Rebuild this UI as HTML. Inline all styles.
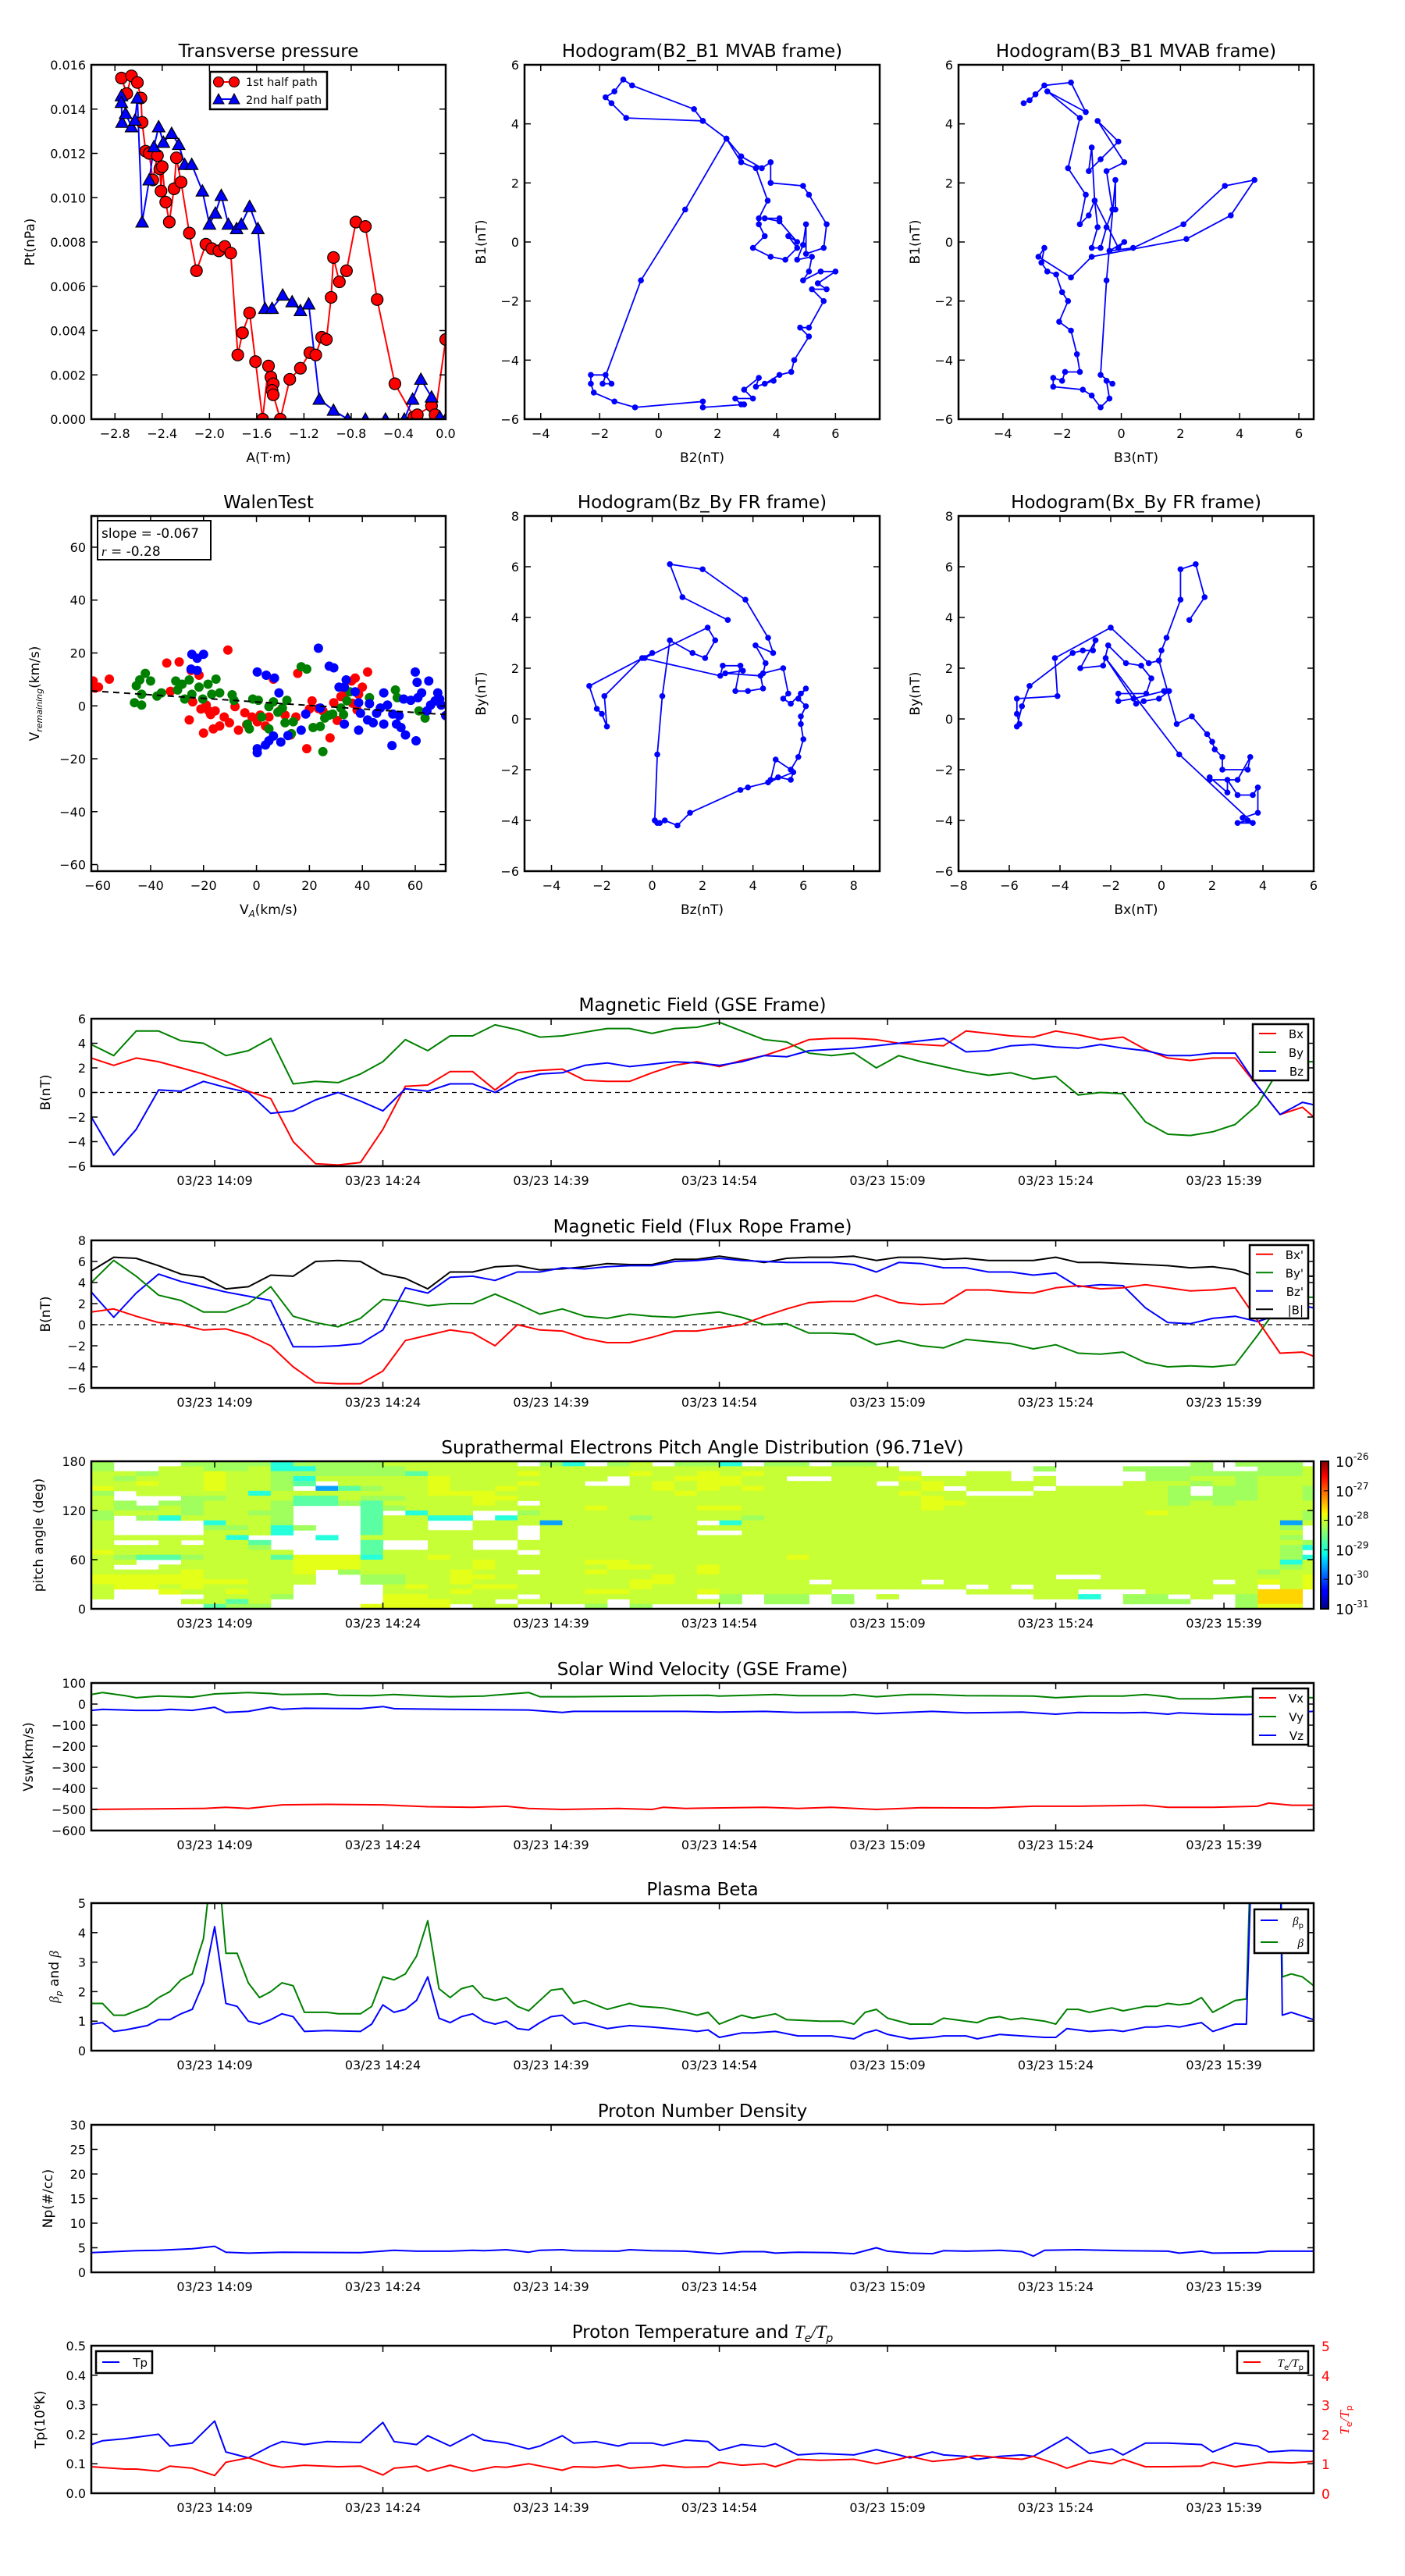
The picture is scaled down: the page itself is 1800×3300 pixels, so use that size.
<!DOCTYPE html>
<html><head><meta charset="utf-8">
<style>
body{margin:0;background:#fff}
svg{display:block}
text{font-family:"DejaVu Sans","Liberation Sans",sans-serif;fill:#000}
</style></head>
<body>
<svg id="chart" xmlns="http://www.w3.org/2000/svg" width="1800" height="3300" viewBox="0 0 1800 3300">
<defs id="defs">
<linearGradient id="jet" x1="0" y1="1" x2="0" y2="0">
<stop offset="0" stop-color="#000080"/><stop offset="0.11" stop-color="#0000ff"/><stop offset="0.125" stop-color="#0000ff"/>
<stop offset="0.34" stop-color="#00dbff"/><stop offset="0.375" stop-color="#0affe6"/><stop offset="0.64" stop-color="#f0ff08"/>
<stop offset="0.66" stop-color="#ffeb00"/><stop offset="0.89" stop-color="#ff0a00"/><stop offset="0.91" stop-color="#f50000"/><stop offset="1" stop-color="#800000"/>
</linearGradient>
</defs>
</svg>
<script>
// ---------------- DATA ----------------
const timeTicks = [11,26,41,56,71,86,101];
const timeLabels = ['03/23 14:09','03/23 14:24','03/23 14:39','03/23 14:54','03/23 15:09','03/23 15:24','03/23 15:39'];
const gridT = [0,2,4,6,8,10,12,14,16,18,20,22,24,26,28,30,32,34,36,38,40,42,44,46,48,50,52,54,56,58,60,62,64,66,68,70,72,74,76,78,80,82,84,86,88,90,92,94,96,98,100,102,104,106,108,109];
const gseBx = [2.8,2.2,2.8,2.5,2.0,1.5,0.9,0.1,-0.5,-4.0,-5.8,-5.9,-5.7,-3.0,0.5,0.6,1.7,1.7,0.2,1.6,1.8,1.9,1.0,0.9,0.9,1.6,2.2,2.5,2.1,2.6,3.0,3.6,4.3,4.4,4.4,4.3,4.0,3.9,3.8,5.0,4.8,4.6,4.5,5.0,4.7,4.3,4.5,3.5,2.8,2.6,2.8,2.8,0.5,-1.8,-1.2,-2.0];
const gseBy = [3.9,3.0,5.0,5.0,4.2,4.0,3.0,3.4,4.4,0.7,0.9,0.8,1.5,2.5,4.3,3.4,4.6,4.6,5.5,5.1,4.5,4.6,4.9,5.2,5.2,4.8,5.2,5.3,5.7,5.0,4.3,4.1,3.2,3.0,3.2,2.0,3.0,2.5,2.1,1.7,1.4,1.6,1.1,1.3,-0.2,0.0,-0.1,-2.4,-3.4,-3.5,-3.2,-2.6,-1.0,2.0,2.5,2.5];
const gseBz = [-2.0,-5.1,-3.0,0.2,0.1,0.9,0.4,0.0,-1.7,-1.5,-0.6,0.0,-0.7,-1.5,0.3,0.1,0.7,0.7,0.0,1.0,1.5,1.6,2.2,2.4,2.1,2.3,2.5,2.4,2.2,2.5,3.0,2.9,3.4,3.5,3.6,3.8,4.0,4.2,4.4,3.3,3.4,3.8,3.9,3.7,3.6,3.9,3.6,3.4,3.0,3.0,3.2,3.2,0.5,-1.8,-0.8,-1.0];
const frBx = [1.2,1.5,0.8,0.2,0.0,-0.5,-0.4,-1.0,-2.0,-4.0,-5.5,-5.6,-5.6,-4.4,-1.5,-1.0,-0.5,-0.8,-2.0,0.0,-0.5,-0.6,-1.3,-1.7,-1.7,-1.2,-0.6,-0.6,-0.3,0.0,0.8,1.5,2.1,2.2,2.2,2.8,2.1,1.9,2.0,3.3,3.3,3.1,3.0,3.5,3.7,3.4,3.5,3.8,3.5,3.2,3.3,3.5,0.4,-2.7,-2.6,-3.0];
const frBy = [4.0,6.1,4.6,2.8,2.3,1.2,1.2,2.0,3.6,0.8,0.2,-0.2,0.6,2.4,2.2,1.8,2.0,2.0,2.9,2.0,1.0,1.5,0.8,0.6,1.0,0.8,0.7,1.0,1.2,0.7,0.0,0.1,-0.8,-0.8,-0.9,-1.9,-1.5,-2.0,-2.2,-1.4,-1.6,-1.8,-2.3,-1.9,-2.7,-2.8,-2.6,-3.6,-4.0,-3.9,-4.0,-3.8,-1.0,2.0,2.6,2.6];
const frBz = [3.1,0.7,3.0,4.8,4.1,3.6,3.1,2.7,2.3,-2.1,-2.1,-2.0,-1.8,-0.5,3.5,3.0,4.5,4.6,4.2,5.0,5.0,5.4,5.3,5.5,5.6,5.6,6.0,6.1,6.3,6.1,6.0,5.9,5.9,5.9,5.7,5.0,5.9,5.8,5.4,5.4,5.0,5.0,4.7,4.9,3.6,3.8,3.7,1.6,0.2,0.1,0.6,0.8,0.3,1.0,1.8,1.6];
const frB = [5.1,6.4,6.3,5.6,4.8,4.5,3.4,3.6,4.7,4.6,6.0,6.1,6.0,4.8,4.4,3.4,5.0,5.0,5.5,5.6,5.2,5.3,5.5,5.8,5.7,5.7,6.2,6.2,6.5,6.2,5.9,6.3,6.4,6.4,6.5,6.1,6.4,6.4,6.2,6.3,6.1,6.1,6.1,6.4,5.9,5.9,5.8,5.7,5.6,5.4,5.5,5.2,4.5,4.5,4.6,4.6];
const vxSeries = [[0,-500],[10,-495],[12,-490],[14,-495],[17,-478],[21,-476],[26,-478],[30,-487],[34,-490],[37,-485],[39,-495],[42,-500],[47,-495],[50,-500],[51,-490],[53,-495],[60,-490],[63,-495],[66,-490],[70,-500],[74,-492],[80,-493],[84,-485],[88,-485],[94,-480],[96,-490],[100,-490],[104,-485],[105,-470],[107,-480],[109,-480]];
const vySeries = [[0,45],[1,55],[3,40],[4,30],[6,38],[9,33],[11,48],[14,55],[16,50],[17,45],[21,48],[22,42],[25,40],[27,45],[30,38],[32,35],[35,38],[39,55],[40,35],[43,35],[50,38],[51,40],[55,42],[56,38],[61,45],[63,40],[67,40],[68,45],[70,35],[73,45],[75,45],[78,40],[84,38],[86,30],[89,38],[92,38],[94,45],[96,35],[97,25],[100,25],[103,35],[109,30]];
const vzSeries = [[0,-30],[1,-25],[4,-30],[6,-30],[7,-25],[9,-30],[11,-15],[12,-40],[14,-35],[16,-15],[17,-25],[19,-20],[24,-22],[26,-12],[27,-22],[32,-25],[39,-28],[42,-40],[43,-35],[53,-35],[56,-38],[60,-35],[63,-40],[68,-38],[70,-45],[75,-35],[78,-42],[83,-38],[86,-48],[88,-40],[92,-42],[94,-40],[96,-48],[97,-42],[100,-48],[103,-50],[109,-35]];
const betaSeries = [[0,1.6],[1,1.6],[2,1.2],[3,1.2],[5,1.5],[6,1.8],[7,2.0],[8,2.4],[9,2.6],[10,3.8],[10.5,5.5],[11,6],[11.5,5.5],[12,3.3],[13,3.3],[14,2.3],[15,1.8],[16,2.0],[17,2.3],[18,2.2],[19,1.3],[21,1.3],[22,1.25],[24,1.25],[25,1.5],[26,2.5],[27,2.4],[28,2.6],[29,3.2],[30,4.4],[31,2.1],[32,1.8],[33,2.1],[34,2.2],[35,1.8],[36,1.7],[37,1.8],[38,1.5],[39,1.35],[40,1.7],[41,2.05],[42,2.1],[43,1.6],[44,1.7],[46,1.4],[47,1.5],[48,1.6],[49,1.5],[51,1.45],[53,1.3],[54,1.2],[55,1.3],[56,0.9],[58,1.2],[59,1.1],[61,1.25],[62,1.05],[65,1.0],[67,1.0],[68,0.9],[69,1.3],[70,1.4],[71,1.1],[73,0.9],[75,0.9],[76,1.1],[78,1.0],[79,0.95],[80,1.1],[81,1.15],[82,1.05],[83,1.1],[85,1.0],[86,0.9],[87,1.4],[88,1.4],[89,1.3],[91,1.45],[92,1.35],[94,1.5],[95,1.5],[96,1.6],[97,1.55],[98,1.6],[99,1.8],[100,1.3],[102,1.7],[103,1.75],[103.5,8],[105,9],[106,8],[106.2,2.5],[107,2.6],[108,2.5],[109,2.2]];
const betaPSeries = [[0,0.9],[1,0.95],[2,0.65],[3,0.7],[5,0.85],[6,1.05],[7,1.05],[8,1.25],[9,1.4],[10,2.3],[11,4.2],[12,1.6],[13,1.5],[14,1.0],[15,0.9],[16,1.05],[17,1.25],[18,1.15],[19,0.65],[21,0.68],[24,0.65],[25,0.9],[26,1.55],[27,1.3],[28,1.4],[29,1.7],[30,2.5],[31,1.1],[32,0.95],[33,1.15],[34,1.25],[35,1.0],[36,0.9],[37,1.0],[38,0.75],[39,0.7],[40,0.95],[41,1.15],[42,1.2],[43,0.9],[44,0.95],[46,0.75],[47,0.8],[48,0.85],[50,0.8],[53,0.7],[54,0.65],[55,0.7],[56,0.45],[58,0.6],[59,0.6],[61,0.65],[63,0.5],[66,0.5],[68,0.4],[69,0.6],[70,0.7],[71,0.55],[73,0.4],[75,0.45],[76,0.5],[78,0.5],[79,0.4],[81,0.55],[83,0.5],[85,0.45],[86,0.45],[87,0.75],[88,0.7],[89,0.65],[91,0.7],[92,0.65],[94,0.8],[95,0.8],[96,0.85],[97,0.8],[99,0.95],[100,0.65],[102,0.9],[103,0.9],[103.5,7],[106,7],[106.2,1.2],[107,1.3],[109,1.05]];
const npSeries = [[0,4.0],[2,4.2],[4,4.4],[6,4.5],[9,4.8],[11,5.3],[12,4.1],[14,3.9],[17,4.1],[24,4.0],[27,4.5],[29,4.3],[32,4.3],[34,4.5],[35,4.4],[37,4.6],[39,4.1],[40,4.5],[42,4.6],[43,4.4],[47,4.3],[48,4.6],[50,4.4],[53,4.3],[56,3.8],[58,4.2],[60,4.2],[61,3.9],[63,4.1],[66,4.0],[68,3.8],[70,5.0],[71,4.3],[73,3.9],[75,3.8],[76,4.4],[78,4.3],[80,4.4],[81,4.5],[83,4.2],[84,3.3],[85,4.5],[88,4.6],[92,4.4],[96,4.3],[97,3.9],[99,4.3],[100,3.9],[104,4.0],[105,4.3],[109,4.3]];
const tpSeries = [[0,0.165],[1,0.178],[3,0.185],[4,0.19],[6,0.2],[7,0.16],[9,0.17],[11,0.245],[12,0.14],[14,0.12],[16,0.16],[17,0.175],[19,0.165],[21,0.175],[24,0.172],[26,0.24],[27,0.175],[29,0.165],[30,0.195],[32,0.16],[34,0.2],[35,0.18],[37,0.17],[39,0.15],[40,0.16],[42,0.195],[43,0.17],[45,0.175],[47,0.16],[48,0.17],[50,0.17],[51,0.162],[53,0.18],[55,0.175],[56,0.145],[58,0.165],[60,0.158],[61,0.168],[63,0.13],[65,0.135],[68,0.13],[70,0.148],[72,0.13],[73,0.12],[75,0.14],[76,0.13],[78,0.125],[79,0.115],[81,0.125],[83,0.13],[84,0.125],[87,0.19],[89,0.135],[91,0.15],[92,0.13],[94,0.17],[96,0.17],[99,0.165],[100,0.14],[102,0.17],[104,0.16],[105,0.14],[107,0.145],[109,0.143]];
const teTpSeries = [[0,0.9],[3,0.82],[4,0.82],[6,0.75],[7,0.92],[9,0.85],[11,0.6],[12,1.05],[14,1.2],[16,0.95],[17,0.88],[19,0.95],[22,0.9],[24,0.92],[26,0.62],[27,0.85],[29,0.92],[30,0.75],[32,0.95],[34,0.75],[36,0.9],[37,0.88],[39,1.0],[42,0.78],[43,0.9],[45,0.88],[47,0.95],[48,0.85],[50,0.9],[51,0.95],[53,0.88],[55,0.9],[56,1.05],[58,0.95],[60,1.0],[61,0.9],[63,1.15],[65,1.12],[68,1.15],[70,1.0],[72,1.15],[73,1.25],[75,1.08],[77,1.15],[79,1.28],[81,1.2],[83,1.15],[84,1.25],[86,1.0],[87,0.85],[89,1.1],[91,1.0],[92,1.15],[94,0.9],[96,0.9],[99,0.92],[100,1.05],[102,0.9],[103,0.95],[105,1.05],[107,1.03],[109,1.08]];
const padRows = [
"g   ggggCg|gggllllll |gC gl ggC |gg gg     |         g| ggg ",
"g  llgglCC|ggggllllll|llllllllll|llllll    |  g   gggg|  ggl",
"llgllyllgg|ggggclllly|llllyllyly|lllllll  l|l      ggg|ggggl",
"lglllyllgC|lllllyllll|lll llyyyl|l  lllylll|l l    ggl|lglll",
"llyllyllgc| llllyllly|ll  lylyyl|lllll lyll|lll   lllg|lglll",
"yllllyllg |bcgllyllyl|lllllylyly|llllllly l|ll lllllg |ggllg",
"g lllllCll|lllllyyyll|llllllylll|llllllyll |  llllllg|ggllg",
"l   gglllc|clgglllyyl|llllllllll|lllllllyll|llllllllgg|ggllg",
"lg gglllgc|cgcllllyl |llllllllll|lllllllyyl|llllllllgl|gllll",
"lgglglllg |  cgllllll|llyllllyyl|lllllllyll|llllllllll|lllll",
"glllgllgg |  c Cll  g|llllllllll|llllllllll|lllllllyll|llllg",
"g gCllllg |  cllCC Cl|llllgllllg|llllllllll|llllllllll|llllg",
"l    Cllg |  cll  lll|bllllll Cl|llllllllll|llllllllll|lllbl",
"l    gglCg|  cll  ll |llllllllll|llllllllll|llllllllll|lllg ",
"l    lllC |  cllllll |lllllll  l|llllllllll|llllllllll|llll ",
"llllllC   |C lllllll |llllllllll|llllllllll|llllllllll|lllg ",
"l  l llc  |  c  ll  l|llllllllll|llllllllll|llllllllll|llllg",
"lllllllg  |  c  ll  l|llllllllll|llllllllll|llllllllll|lllgC",
"yllllllll |  cllllll |llllllllll|llllllllll|llllllllll|lllg ",
"lgccglllcy|yyCllyllll|llllllllll|lyllllllll|llllllllll|lllgC",
"ll  llllly|yylllllyll|llyyllllll|llllllllll|llllllllll|lllCl",
"l  lllllly|yylllllyll|lllyyllyll|llllllllll|llllllllll|lllgl",
"llllylllly| gllllyll |llyllllyll|llllllllll|llllllllll|llgll",
"yyyyylllll|  ggllyyll|lllllyllll|llllllllll|lll  lllll|lllly",
"yyyyyyylll|  ggllylll|llllyyllll|ll llll ll|llllllllll| lyly",
"lyylyllll |   lyllyyl|llllylllll|lllllllll |l llllllll|ll ly",
"l  yllyll |   lllylll|llyylllyll|lll      l|llll   lll|lloo ",
"l    lllg |   yyllll |lllllll g |gg g l    |  llC gg l| goo ",
"    llcl  |   yyyll l|lll llllg |gg g      |      ggg | goo ",
"     cgg  |  yyyy ll |  g g     |          |          | gyy "];
const pt1st = [[-2.745,0.0154],[-2.70,0.0147],[-2.66,0.0155],[-2.61,0.0152],[-2.58,0.0145],[-2.57,0.0134],[-2.54,0.0121],[-2.51,0.0120],[-2.48,0.0108],[-2.44,0.0119],[-2.42,0.0113],[-2.41,0.0103],[-2.40,0.0114],[-2.37,0.0098],[-2.34,0.0089],[-2.30,0.0104],[-2.28,0.0118],[-2.24,0.0107],[-2.17,0.0084],[-2.11,0.0067],[-2.03,0.0079],[-1.98,0.0077],[-1.92,0.0076],[-1.87,0.0078],[-1.82,0.0075],[-1.76,0.0029],[-1.72,0.0039],[-1.66,0.0048],[-1.61,0.0026],[-1.55,0.0],[-1.50,0.0024],[-1.48,0.0019],[-1.46,0.0016],[-1.47,0.0013],[-1.46,0.0011],[-1.40,0.0],[-1.32,0.0018],[-1.23,0.0023],[-1.15,0.0030],[-1.10,0.0029],[-1.05,0.0037],[-1.01,0.0036],[-0.97,0.0055],[-0.95,0.0073],[-0.90,0.0062],[-0.84,0.0067],[-0.76,0.0089],[-0.68,0.0087],[-0.58,0.0054],[-0.43,0.0016],[-0.27,0.0001],[-0.24,0.0002],[-0.12,0.0006],[-0.09,0.0002],[0.0,0.0036]];
const pt2nd = [[-2.745,0.0146],[-2.745,0.0143],[-2.74,0.0134],[-2.71,0.0138],[-2.66,0.0132],[-2.63,0.0135],[-2.61,0.0145],[-2.57,0.0089],[-2.51,0.0108],[-2.47,0.0123],[-2.43,0.0132],[-2.39,0.0125],[-2.32,0.0129],[-2.26,0.0124],[-2.21,0.0115],[-2.15,0.0115],[-2.06,0.0103],[-2.00,0.0088],[-1.95,0.0093],[-1.90,0.0101],[-1.84,0.0088],[-1.77,0.0086],[-1.73,0.0088],[-1.66,0.0096],[-1.59,0.0086],[-1.53,0.0050],[-1.47,0.0050],[-1.38,0.0056],[-1.30,0.0053],[-1.23,0.0049],[-1.16,0.0052],[-1.07,0.0009],[-0.95,0.0004],[-0.83,0.0],[-0.68,0.0],[-0.51,0.0],[-0.35,0.0],[-0.28,0.0009],[-0.21,0.0018],[-0.12,0.0010],[-0.05,0.0001],[0.0,0.0]];
const hodoB2B1 = [[1.5,4.1],[1.2,4.5],[-0.9,5.3],[-1.2,5.5],[-1.5,5.1],[-1.8,4.9],[-1.6,4.7],[-1.1,4.2],[1.5,4.1],[2.3,3.5],[2.8,2.9],[3.5,2.5],[3.8,2.7],[3.8,2.0],[4.9,1.9],[5.1,1.6],[5.7,0.6],[5.6,-0.2],[5.0,-0.4],[5.0,0.6],[4.9,-0.1],[4.7,-0.6],[5.2,-0.5],[5.1,-1.0],[4.9,-1.3],[5.5,-1.0],[6.0,-1.0],[5.4,-1.4],[5.7,-1.6],[5.2,-1.6],[5.6,-2.0],[5.1,-2.9],[4.8,-2.9],[5.1,-3.2],[4.6,-4.0],[4.5,-4.4],[4.1,-4.5],[3.6,-4.8],[3.9,-4.7],[3.3,-4.9],[3.4,-4.6],[2.9,-5.0],[3.2,-5.3],[2.6,-5.3],[2.8,-5.5],[2.9,-5.5],[1.5,-5.6],[1.5,-5.4],[-0.8,-5.6],[-1.5,-5.4],[-2.2,-5.1],[-2.3,-4.8],[-2.3,-4.5],[-1.8,-4.5],[-1.6,-4.8],[-1.9,-4.8],[-0.6,-1.3],[0.9,1.1],[2.3,3.5],[2.8,2.7],[3.3,2.5],[3.7,1.4],[3.4,0.8],[3.4,0.6],[3.6,0.2],[3.2,-0.2],[3.8,-0.5],[4.3,-0.6],[4.7,-0.2],[4.4,0.2],[4.7,0.0],[4.1,0.7],[3.6,0.8],[4.1,0.8]];
const hodoB3B1 = [[-3.3,4.7],[-3.1,4.8],[-2.9,5.0],[-2.6,5.3],[-1.7,5.4],[-1.2,4.4],[-2.5,5.1],[-1.4,4.2],[-1.8,2.5],[-1.2,1.6],[-1.4,0.6],[-1.1,0.9],[-0.9,1.4],[-0.8,0.5],[-1.0,-0.2],[-0.7,-0.2],[-0.5,0.5],[-0.3,1.1],[-0.5,2.4],[0.1,2.7],[-0.8,4.1],[-0.1,3.4],[-0.7,2.8],[-1.1,2.4],[-1.0,3.2],[-0.9,1.4],[-0.1,-0.2],[0.1,0.0],[-0.4,-0.3],[0.4,-0.2],[2.1,0.6],[3.5,1.9],[4.5,2.1],[3.7,0.9],[2.2,0.1],[-1.0,-0.5],[-1.7,-1.2],[-2.8,-0.5],[-2.6,-0.2],[-2.7,-0.7],[-2.5,-1.0],[-2.2,-1.1],[-2.0,-1.7],[-1.8,-2.0],[-2.1,-2.7],[-1.7,-3.0],[-1.5,-3.8],[-1.4,-4.4],[-1.9,-4.4],[-2.0,-4.7],[-2.3,-4.6],[-2.3,-4.9],[-1.3,-5.0],[-1.0,-5.2],[-0.7,-5.6],[-0.4,-5.3],[-0.5,-4.7],[-0.3,-4.8],[-0.7,-4.5],[-0.5,-1.3],[-0.2,2.1],[-0.2,1.1]];
const hodoBzBy = [[3.0,3.9],[1.2,4.8],[0.7,6.1],[2.0,5.9],[3.7,4.7],[4.6,3.2],[4.8,2.6],[4.1,2.9],[4.5,2.2],[4.4,1.8],[5.2,2.0],[5.4,1.0],[5.2,0.8],[5.5,0.6],[5.9,1.0],[6.1,1.2],[5.8,0.8],[6.1,0.5],[5.9,0.1],[5.9,-0.2],[6.0,-0.8],[5.8,-1.5],[5.5,-2.0],[4.9,-1.6],[4.7,-2.4],[5.0,-2.3],[5.5,-2.4],[5.6,-2.1],[4.6,-2.5],[3.8,-2.7],[3.5,-2.8],[1.5,-3.7],[1.0,-4.2],[0.5,-4.0],[0.2,-4.1],[0.3,-4.1],[0.1,-4.0],[0.2,-1.4],[0.4,0.9],[0.7,3.1],[1.6,2.6],[2.1,2.4],[2.5,3.1],[2.2,3.6],[-0.3,2.4],[0.0,2.6],[-2.5,1.3],[-2.2,0.4],[-2.0,0.2],[-1.8,-0.3],[-1.9,0.9],[-0.4,2.4],[2.7,1.7],[2.8,2.1],[3.5,2.1],[3.3,1.1],[3.8,1.1],[4.4,1.2],[4.3,1.7],[2.9,1.8],[3.6,1.9]];
const hodoBxBy = [[1.1,3.9],[1.7,4.8],[1.35,6.1],[0.75,5.9],[0.75,4.7],[0.2,3.2],[0.0,2.7],[-0.1,2.3],[-0.5,2.2],[-2.0,3.6],[-4.2,2.4],[-4.1,0.9],[-5.7,0.8],[-5.7,0.2],[-5.6,-0.2],[-5.7,-0.3],[-5.5,0.5],[-5.2,1.3],[-3.5,2.6],[-3.1,2.7],[-2.7,2.7],[-2.6,3.1],[-3.2,2.0],[-2.3,2.1],[-2.1,2.9],[-1.4,2.2],[-0.8,2.1],[-0.4,1.6],[-0.6,1.0],[-1.7,1.0],[-1.7,0.7],[-1.1,0.8],[0.1,1.1],[0.3,1.1],[-0.1,0.8],[-0.7,0.7],[-1.0,0.6],[-2.2,2.4],[0.7,-1.4],[3.6,-4.1],[3.0,-4.1],[3.4,-4.0],[3.2,-3.9],[3.8,-3.7],[3.8,-2.7],[3.6,-3.0],[3.0,-3.0],[2.6,-2.4],[2.6,-2.9],[1.9,-2.3],[1.9,-2.4],[3.0,-2.4],[3.5,-1.5],[3.4,-2.0],[2.4,-2.0],[2.4,-1.5],[2.1,-1.2],[2.0,-0.9],[1.8,-0.6],[1.2,0.1],[0.6,-0.2],[-0.1,2.3]];
const walenRed = [[-61.7,9.4],[-59.7,7.1],[-55.6,10.1],[-61.0,6.7],[-33.9,16.2],[-29.2,16.6],[-32.5,5.5],[-24.7,13.4],[-21.7,11.6],[-21.0,-1.2],[-18.0,-1.9],[-15.6,-1.9],[-12.2,-4.2],[-8.1,-0.3],[-4.4,-2.6],[-1.7,-4.2],[1.4,-3.5],[6.4,10.1],[10.8,-3.5],[15.6,12.3],[20.0,-1.2],[23.4,-1.0],[29.2,1.2],[35.9,9.4],[40.0,7.1],[42.0,12.8],[38.6,4.4],[36.3,1.0],[31.9,3.5],[30.5,-5.5],[27.8,-12.1],[19.0,-16.2],[12.9,-11.0],[8.8,-1.9],[4.7,-4.2],[-6.8,-9.2],[-13.9,-7.6],[-20.0,-10.3],[-25.4,-5.3],[-10.8,21.1],[-17.3,-3.3],[-10.2,-6.4],[-3.7,-7.1],[0.3,-6.0],[3.4,-7.6],[14.9,-4.2],[21.0,1.9],[25.1,-1.9],[33.6,4.9],[37.3,10.5],[38.0,-1.5],[-19.0,0.3],[-24.1,1.5],[-16.3,-8.7]];
const walenGreen = [[-46.1,1.2],[-45.4,7.6],[-44.1,9.8],[-42.0,12.3],[-43.4,4.4],[-40.0,9.4],[-37.6,3.7],[-30.5,9.4],[-29.8,6.0],[-28.1,8.2],[-27.1,2.6],[-25.4,9.8],[-21.7,7.1],[-18.3,8.2],[-15.3,10.1],[-13.9,4.9],[-9.2,4.2],[-8.5,2.1],[-1.4,2.6],[0.7,2.1],[2.0,-4.2],[4.7,-0.3],[6.4,1.5],[8.1,-2.4],[9.8,-0.8],[10.8,-6.4],[11.5,2.1],[13.2,-10.5],[13.9,-6.0],[16.9,14.8],[19.0,13.9],[21.4,-8.2],[24.1,-7.8],[25.1,-17.3],[25.8,-4.6],[27.5,-3.5],[28.8,-3.1],[31.9,-0.8],[32.9,-3.3],[34.2,1.9],[35.3,5.3],[42.7,3.1],[52.5,6.0],[53.2,3.1],[61.4,-1.9],[63.7,-4.6],[-43.4,0.3],[-35.9,4.9],[-24.4,4.4],[-20.3,2.6],[-16.9,4.4],[-3.4,-6.9],[-2.7,-8.7],[4.7,-8.7]];
const walenBlue = [[-24.4,19.5],[-22.4,18.0],[-20.0,19.5],[-24.7,13.9],[-22.4,13.4],[0.3,12.8],[3.7,11.6],[6.8,10.5],[8.5,4.9],[4.7,-13.2],[0.3,-16.2],[3.4,-14.8],[0.3,-17.7],[6.4,-11.4],[9.2,-13.7],[11.9,-11.2],[16.9,-9.2],[23.4,21.8],[27.5,15.0],[29.2,14.4],[31.2,7.1],[33.9,9.8],[33.2,7.1],[37.3,5.3],[38.6,1.2],[39.3,-2.8],[42.0,-5.3],[44.1,-6.4],[45.4,-2.8],[46.8,-0.8],[48.1,4.9],[49.5,0.3],[51.5,-3.1],[52.9,-6.9],[54.6,-8.2],[56.3,-11.0],[51.2,-15.0],[55.6,2.6],[58.3,2.1],[60.7,8.9],[60.0,12.8],[62.4,4.9],[65.1,9.4],[67.5,1.9],[68.5,4.9],[69.2,2.6],[65.8,0.3],[69.8,0.3],[60.3,-13.2],[61.0,3.1],[64.4,-1.9],[71.5,-3.7],[53.9,-3.7],[48.1,-6.9],[42.7,0.8],[38.6,-9.2],[33.2,-6.9],[18.6,-3.1],[24.1,-0.8]];
const walenSlope = -0.067;
const walenIntercept = 1.5;

// ---------------- DRAWING ----------------
const NS = 'http://www.w3.org/2000/svg';
const svg = document.getElementById('chart');
const defs = document.getElementById('defs');
function mk(tag, attrs, parent) {
  const e = document.createElementNS(NS, tag);
  for (const k in attrs) e.setAttribute(k, attrs[k]);
  (parent || svg).appendChild(e);
  return e;
}
function fmt(v, d) { return (v < 0 ? '\u2212' : '') + Math.abs(v).toFixed(d); }
function txt(parent, x, y, s, size, anchor, extra) {
  const t = mk('text', Object.assign({x: x, y: y, 'font-size': size, 'text-anchor': anchor || 'middle'}, extra || {}), parent);
  t.textContent = s;
  return t;
}

function axes(o) {
  const a = Object.assign({}, o);
  a.sx = v => o.x + (v - o.xmin) / (o.xmax - o.xmin) * o.w;
  a.sy = v => o.y + o.h - (v - o.ymin) / (o.ymax - o.ymin) * o.h;
  a.g = mk('g', {});
  
  
  const cp = mk('clipPath', {id: o.name + '-clip'}, defs);
  mk('rect', {x: o.x, y: o.y, width: o.w, height: o.h}, cp);
  a.plot = mk('g', {'clip-path': 'url(#' + o.name + '-clip)'}, a.g);
  
  
  return a;
}
function finish(a) {
  const g = a.g;
  const fr = mk('rect', {x: a.x, y: a.y, width: a.w, height: a.h, fill: 'none', stroke: '#000', 'stroke-width': 2.5}, g);
  
  
  const xg = mk('g', {}, g);
  
  
  a.xticks.forEach((v, i) => {
    const X = a.sx(v);
    mk('line', {x1: X, x2: X, y1: a.y + a.h, y2: a.y + a.h - 8, stroke: '#000', 'stroke-width': 1.5}, xg);
    mk('line', {x1: X, x2: X, y1: a.y, y2: a.y + 8, stroke: '#000', 'stroke-width': 1.5}, xg);
    const t = txt(xg, X, a.y + a.h + (a.xlabOff || 24), a.xlabels[i], a.tickSize || 16);
    
  });
  const yg = mk('g', {}, g);
  
  
  a.yticks.forEach((v, i) => {
    const Y = a.sy(v);
    mk('line', {x1: a.x, x2: a.x + 8, y1: Y, y2: Y, stroke: '#000', 'stroke-width': 1.5}, yg);
    mk('line', {x1: a.x + a.w, x2: a.x + a.w - 8, y1: Y, y2: Y, stroke: '#000', 'stroke-width': 1.5}, yg);
    const t = txt(yg, a.x - 7, Y + 6, a.ylabels[i], a.tickSize || 16, 'end');
    
  });
  if (a.title) {
    const t = txt(g, a.x + a.w / 2, a.y - 10, '', 23);
    
    
    t.innerHTML = a.title;
  }
  if (a.xlabel) {
    const t = txt(g, a.x + a.w / 2, a.y + a.h + 55, '', 17);
    
    
    t.innerHTML = a.xlabel;
  }
  if (a.ylabel) {
    const t = txt(g, 0, 0, '', 17, 'middle', {transform: 'translate(' + a.ylx + ',' + (a.y + a.h / 2) + ') rotate(-90)'});
    
    
    t.innerHTML = a.ylabel;
  }
}
function seq(a, b, s) { const r = []; for (let v = a; v <= b + 1e-9; v += s) r.push(+v.toFixed(6)); return r; }
function drawLine(a, xs, ys, color, name, width) {
  const d = xs.map((x, i) => (i ? 'L' : 'M') + a.sx(x).toFixed(1) + ',' + a.sy(ys[i]).toFixed(1)).join('');
  const p = mk('path', {d: d, fill: 'none', stroke: color, 'stroke-width': width || 2, 'stroke-linejoin': 'round'}, a.plot);
  
  
  return p;
}
function drawPairs(a, pairs, color, name, width) {
  return drawLine(a, pairs.map(p => p[0]), pairs.map(p => p[1]), color, name, width);
}
function dots(a, pairs, color, r, name, stroke) {
  const g = mk('g', {}, a.plot);
  
  
  pairs.forEach(p => {
    const c = mk('circle', {cx: a.sx(p[0]), cy: a.sy(p[1]), r: r, fill: color, stroke: stroke || 'none', 'stroke-width': 1.2}, g);
    
    
  });
}
function tris(a, pairs, color, r, name) {
  const g = mk('g', {}, a.plot);
  
  
  pairs.forEach(p => {
    const X = a.sx(p[0]), Y = a.sy(p[1]);
    const t = mk('polygon', {points: X + ',' + (Y - r) + ' ' + (X - r) + ',' + (Y + r * 0.8) + ' ' + (X + r) + ',' + (Y + r * 0.8), fill: color, stroke: '#000', 'stroke-width': 1.2}, g);
    
    
  });
}
function legend(a, x, y, w, h, entries, name) {
  const g = mk('g', {}, a.g);
  
  
  mk('rect', {x: x, y: y, width: w, height: h, fill: '#fff', stroke: '#000', 'stroke-width': 2.5}, g);
  const step = h / entries.length;
  entries.forEach((e, i) => {
    const cy = y + step * (i + 0.5);
    const eg = mk('g', {}, g);
    
    
    mk('line', {x1: x + 8, x2: x + 30, y1: cy, y2: cy, stroke: e.c, 'stroke-width': 2}, eg);
    const t = txt(eg, x + w - 6, cy + 6, '', 15, 'end');
    t.innerHTML = e.t;
  });
}
const tw = 1566, tx = 117;
function timeAxes(name, y, ymin, ymax, yt, yl, title, ylabel, ylx) {
  return axes({name: name, x: tx, y: y, w: tw, h: 189, xmin: 0, xmax: 109, ymin: ymin, ymax: ymax,
    xticks: timeTicks, xlabels: timeLabels, yticks: yt, ylabels: yl, title: title, ylabel: ylabel, ylx: ylx});
}
function hline(a, v, name) {
  const l = mk('line', {x1: a.x, x2: a.x + a.w, y1: a.sy(v), y2: a.sy(v), stroke: '#000', 'stroke-width': 1.3, 'stroke-dasharray': '6,5'}, a.plot);
  
  
}

// ---- Row 1 ----
const xtA = [-2.8,-2.4,-2.0,-1.6,-1.2,-0.8,-0.4,0.0];
const ytP = seq(0, 0.016, 0.002);
const a1 = axes({name: 'transverse-pressure', x: 117, y: 83, w: 454, h: 454, xmin: -3.0, xmax: 0.0, ymin: 0, ymax: 0.016,
  xticks: xtA, xlabels: xtA.map(v => fmt(v, 1)), yticks: ytP, ylabels: ytP.map(v => v.toFixed(3)),
  title: 'Transverse pressure', xlabel: 'A(T·m)', ylabel: 'Pt(nPa)', ylx: 44});
drawPairs(a1, pt1st, '#ff0000', 'first-half-path-line', 2);
drawPairs(a1, pt2nd, '#0000ff', 'second-half-path-line', 2);
dots(a1, pt1st, '#ff0000', 7.5, 'first-half-path-markers', '#000');
tris(a1, pt2nd, '#0000ff', 8, 'second-half-path-markers');
finish(a1);
{
  const g = mk('g', {}, a1.g);
  
  
  mk('rect', {x: 269, y: 92, width: 150, height: 48, fill: '#fff', stroke: '#000', 'stroke-width': 2.5}, g);
  mk('line', {x1: 280, x2: 300, y1: 105, y2: 105, stroke: '#ff0000', 'stroke-width': 2}, g);
  mk('circle', {cx: 280, cy: 105, r: 6.5, fill: '#ff0000', stroke: '#000'}, g);
  mk('circle', {cx: 300, cy: 105, r: 6.5, fill: '#ff0000', stroke: '#000'}, g);
  txt(g, 315, 110, '1st half path', 14.5, 'start');
  mk('line', {x1: 280, x2: 300, y1: 127, y2: 127, stroke: '#0000ff', 'stroke-width': 2}, g);
  mk('polygon', {points: '280,120 273,133 287,133', fill: '#0000ff', stroke: '#000'}, g);
  mk('polygon', {points: '300,120 293,133 307,133', fill: '#0000ff', stroke: '#000'}, g);
  txt(g, 315, 133, '2nd half path', 14.5, 'start');
}
const y66 = seq(-6, 6, 2);
const a2 = axes({name: 'hodogram-b2-b1', x: 672, y: 83, w: 455, h: 454, xmin: -4.55, xmax: 7.5, ymin: -6, ymax: 6,
  xticks: seq(-4, 6, 2), xlabels: seq(-4, 6, 2).map(v => fmt(v, 0)), yticks: y66, ylabels: y66.map(v => fmt(v, 0)),
  title: 'Hodogram(B2_B1 MVAB frame)', xlabel: 'B2(nT)', ylabel: 'B1(nT)', ylx: 622});
drawPairs(a2, hodoB2B1, '#0000ff', 'b2-b1-path', 1.8);
dots(a2, hodoB2B1, '#0000ff', 3.8, 'b2-b1-points');
finish(a2);
const a3 = axes({name: 'hodogram-b3-b1', x: 1228, y: 83, w: 455, h: 454, xmin: -5.5, xmax: 6.5, ymin: -6, ymax: 6,
  xticks: seq(-4, 6, 2), xlabels: seq(-4, 6, 2).map(v => fmt(v, 0)), yticks: y66, ylabels: y66.map(v => fmt(v, 0)),
  title: 'Hodogram(B3_B1 MVAB frame)', xlabel: 'B3(nT)', ylabel: 'B1(nT)', ylx: 1178});
drawPairs(a3, hodoB3B1, '#0000ff', 'b3-b1-path', 1.8);
dots(a3, hodoB3B1, '#0000ff', 3.8, 'b3-b1-points');
finish(a3);

// ---- Row 2 ----
const w60 = seq(-60, 60, 20);
const a4 = axes({name: 'walen-test', x: 117, y: 661, w: 454, h: 455, xmin: -62.4, xmax: 71.5, ymin: -62.5, ymax: 71.8,
  xticks: w60, xlabels: w60.map(v => fmt(v, 0)), yticks: w60, ylabels: w60.map(v => fmt(v, 0)),
  title: 'WalenTest', xlabel: 'V<tspan font-style="italic" font-size="12" dy="4">A</tspan><tspan dy="-4">(km/s)</tspan>',
  ylabel: 'V<tspan font-style="italic" font-size="11" dy="4">remaining</tspan><tspan dy="-4">(km/s)</tspan>', ylx: 50});
dots(a4, walenRed, '#ff0000', 6, 'walen-red-points');
dots(a4, walenGreen, '#008000', 6, 'walen-green-points');
dots(a4, walenBlue, '#0000ff', 6, 'walen-blue-points');
{
  const fitX = [-62.4, 71.5];
  const fl = mk('line', {x1: a4.sx(fitX[0]), y1: a4.sy(walenIntercept + walenSlope * fitX[0]), x2: a4.sx(fitX[1]), y2: a4.sy(walenIntercept + walenSlope * fitX[1]), stroke: '#000', 'stroke-width': 2, 'stroke-dasharray': '8,6'}, a4.plot);
  
  
}
finish(a4);
{
  const g = mk('g', {}, a4.g);
  
  
  mk('rect', {x: 125, y: 667, width: 145, height: 50, fill: '#fff', stroke: '#000', 'stroke-width': 2}, g);
  txt(g, 130, 689, 'slope = -0.067', 17, 'start');
  const t = txt(g, 130, 712, '', 17, 'start');
  t.innerHTML = '<tspan font-style="italic" font-family="Liberation Serif">r</tspan> = -0.28';
}
const y68 = seq(-6, 8, 2);
const a5 = axes({name: 'hodogram-bz-by', x: 672, y: 661, w: 455, h: 455, xmin: -5.07, xmax: 9.03, ymin: -6, ymax: 8,
  xticks: seq(-4, 8, 2), xlabels: seq(-4, 8, 2).map(v => fmt(v, 0)), yticks: y68, ylabels: y68.map(v => fmt(v, 0)),
  title: 'Hodogram(Bz_By FR frame)', xlabel: 'Bz(nT)', ylabel: 'By(nT)', ylx: 622});
drawPairs(a5, hodoBzBy, '#0000ff', 'bz-by-path', 1.8);
dots(a5, hodoBzBy, '#0000ff', 3.8, 'bz-by-points');
finish(a5);
const a6 = axes({name: 'hodogram-bx-by', x: 1228, y: 661, w: 455, h: 455, xmin: -8, xmax: 6, ymin: -6, ymax: 8,
  xticks: seq(-8, 6, 2), xlabels: seq(-8, 6, 2).map(v => fmt(v, 0)), yticks: y68, ylabels: y68.map(v => fmt(v, 0)),
  title: 'Hodogram(Bx_By FR frame)', xlabel: 'Bx(nT)', ylabel: 'By(nT)', ylx: 1178});
drawPairs(a6, hodoBxBy, '#0000ff', 'bx-by-path', 1.8);
dots(a6, hodoBxBy, '#0000ff', 3.8, 'bx-by-points');
finish(a6);

// ---- Time series ----
const gse = timeAxes('magnetic-field-gse', 1305, -6, 6, y66, y66.map(v => fmt(v, 0)), 'Magnetic Field (GSE Frame)', 'B(nT)', 64);
hline(gse, 0, 'gse-zero-line');
drawLine(gse, gridT, gseBy, '#008000', 'gse-by-line');
drawLine(gse, gridT, gseBx, '#ff0000', 'gse-bx-line');
drawLine(gse, gridT, gseBz, '#0000ff', 'gse-bz-line');
finish(gse);
legend(gse, 1605, 1312, 71, 72, [{c: '#ff0000', t: 'Bx'}, {c: '#008000', t: 'By'}, {c: '#0000ff', t: 'Bz'}], 'gse-legend');

const fr = timeAxes('magnetic-field-flux-rope', 1589, -6, 8, y68, y68.map(v => fmt(v, 0)), 'Magnetic Field (Flux Rope Frame)', 'B(nT)', 64);
hline(fr, 0, 'fr-zero-line');
drawLine(fr, gridT, frB, '#000000', 'fr-btotal-line');
drawLine(fr, gridT, frBz, '#0000ff', 'fr-bz-line');
drawLine(fr, gridT, frBy, '#008000', 'fr-by-line');
drawLine(fr, gridT, frBx, '#ff0000', 'fr-bx-line');
finish(fr);
legend(fr, 1601, 1595, 75, 94, [{c: '#ff0000', t: "Bx'"}, {c: '#008000', t: "By'"}, {c: '#0000ff', t: "Bz'"}, {c: '#000', t: '|B|'}], 'fr-legend');

const y180 = [0, 60, 120, 180];
const pad = timeAxes('pitch-angle-distribution', 1872, 0, 180, y180, y180.map(String), 'Suprathermal Electrons Pitch Angle Distribution (96.71eV)', 'pitch angle (deg)', 55);
const padColors = {g: '#a0ff5c', l: '#c6ff36', y: '#e4ff18', Y: '#f2ff0a', c: '#5affa4', C: '#26ffdc', b: '#0aa0ff', o: '#ffd400'};
padRows.forEach((row, r) => {
  const groups = row.split('|');
  const cells = groups.map((s, gi) => (s + '          ').slice(0, gi === 5 ? 5 : 10)).join('');
  for (let c = 0; c < cells.length; c++) {
    const ch = cells[c];
    if (!padColors[ch]) continue;
    const t0 = c * 2, t1 = Math.min(109, c * 2 + 2);
    const pa1 = 180 - 6 * r, pa0 = 174 - 6 * r;
    const rc = mk('rect', {x: pad.sx(t0), y: pad.sy(pa1), width: pad.sx(t1) - pad.sx(t0) + 0.5, height: pad.sy(pa0) - pad.sy(pa1) + 0.5, fill: padColors[ch]}, pad.plot);
    
    
  }
});
finish(pad);
{
  const g = mk('g', {}, pad.g);
  
  
  mk('rect', {x: 1692, y: 1872, width: 10, height: 189, fill: 'url(#jet)', stroke: '#000', 'stroke-width': 2}, g);
  const exps = [-31, -30, -29, -28, -27, -26];
  exps.forEach((e, i) => {
    const Y = 2061 - i * 189 / 5;
    mk('line', {x1: 1696, x2: 1702, y1: Y, y2: Y, stroke: '#000', 'stroke-width': 1}, g);
    const t = txt(g, 1711, Y + 7, '', 18, 'start');
    t.innerHTML = '10<tspan dy="-9" font-size="12">' + e + '</tspan>';
  });
}

const ySW = seq(-600, 100, 100);
const sw = timeAxes('solar-wind-velocity', 2156, -600, 100, ySW, ySW.map(v => fmt(v, 0)), 'Solar Wind Velocity (GSE Frame)', 'Vsw(km/s)', 42);
drawPairs(sw, vxSeries, '#ff0000', 'vx-line');
drawPairs(sw, vySeries, '#008000', 'vy-line');
drawPairs(sw, vzSeries, '#0000ff', 'vz-line');
finish(sw);
legend(sw, 1605, 2163, 71, 72, [{c: '#ff0000', t: 'Vx'}, {c: '#008000', t: 'Vy'}, {c: '#0000ff', t: 'Vz'}], 'sw-legend');

const y05 = seq(0, 5, 1);
const beta = timeAxes('plasma-beta', 2438, 0, 5, y05, y05.map(String), 'Plasma Beta',
  '<tspan font-style="italic" font-family="Liberation Serif">β</tspan><tspan font-size="11" dy="4" font-style="italic">p</tspan><tspan dy="-4"> and </tspan><tspan font-style="italic" font-family="Liberation Serif">β</tspan>', 75);
drawPairs(beta, betaSeries, '#008000', 'beta-line');
drawPairs(beta, betaPSeries, '#0000ff', 'beta-p-line');
finish(beta);
legend(beta, 1607, 2446, 69, 56, [{c: '#0000ff', t: '<tspan font-style="italic" font-family="Liberation Serif">β</tspan><tspan font-size="10" dy="4">p</tspan>'}, {c: '#008000', t: '<tspan font-style="italic" font-family="Liberation Serif">β</tspan>'}], 'beta-legend');

const y30 = seq(0, 30, 5);
const np = timeAxes('proton-density', 2722, 0, 30, y30, y30.map(String), 'Proton Number Density', 'Np(#/cc)', 67);
drawPairs(np, npSeries, '#0000ff', 'np-line');
finish(np);

const yT = seq(0, 0.5, 0.1);
const tp = timeAxes('proton-temperature', 3005, 0, 0.5, yT, yT.map(v => v.toFixed(1)),
  'Proton Temperature and <tspan font-style="italic" font-family="Liberation Serif">T</tspan><tspan font-size="14" dy="5" font-style="italic">e</tspan><tspan dy="-5" font-style="italic" font-family="Liberation Serif">/T</tspan><tspan font-size="14" dy="5" font-style="italic">p</tspan>',
  'Tp(10<tspan font-size="11" dy="-6">6</tspan><tspan dy="6">K)</tspan>', 57);
drawPairs(tp, tpSeries, '#0000ff', 'tp-line');
const teScale = v => v / 10;
drawLine(tp, teTpSeries.map(p => p[0]), teTpSeries.map(p => teScale(p[1])), '#ff0000', 'te-tp-ratio-line');
finish(tp);
{
  const g = mk('g', {}, tp.g);
  
  
  y05.forEach(v => {
    const t = txt(g, 1693, tp.sy(teScale(v)) + 7, String(v), 17, 'start', {style: 'fill:#ff0000'});
    
  });
  const lab = txt(g, 0, 0, '', 17, 'middle', {transform: 'translate(1728,3100) rotate(-90)', style: 'fill:#ff0000'});
  lab.innerHTML = '<tspan font-style="italic" font-family="Liberation Serif">T</tspan><tspan font-size="11" dy="4">e</tspan><tspan dy="-4" font-style="italic" font-family="Liberation Serif">/T</tspan><tspan font-size="11" dy="4">p</tspan>';
}
legend(tp, 123, 3012, 72, 28, [{c: '#0000ff', t: 'Tp'}], 'tp-legend');
legend(tp, 1585, 3012, 91, 28, [{c: '#ff0000', t: '<tspan font-style="italic" font-family="Liberation Serif">T</tspan><tspan font-size="10" dy="4">e</tspan><tspan dy="-4" font-style="italic" font-family="Liberation Serif">/T</tspan><tspan font-size="10" dy="4">p</tspan>'}], 'te-tp-legend');
</script>
</body></html>
